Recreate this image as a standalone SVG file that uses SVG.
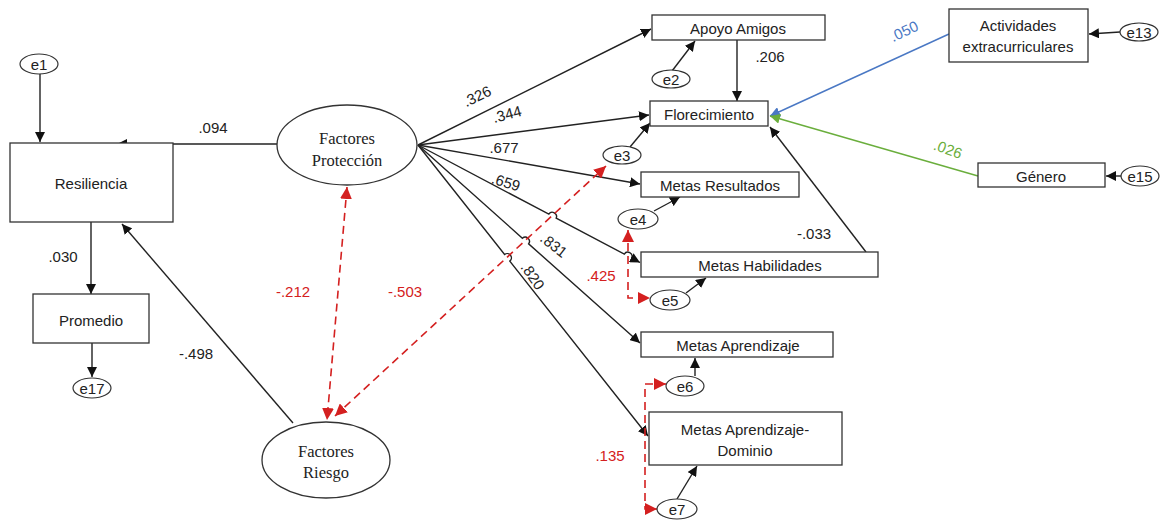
<svg xmlns="http://www.w3.org/2000/svg" width="1163" height="520" viewBox="0 0 1163 520">
  <defs>
    <style>
      .box { fill: #fff; stroke: #333; stroke-width: 1.3; }
      .lat { fill: #fff; stroke: #333; stroke-width: 1.3; }
      .err { fill: #fff; stroke: #333; stroke-width: 1.2; }
      .t { font-family: "Liberation Sans", Arial, sans-serif; font-size: 15px; fill: #222; text-anchor: middle; dominant-baseline: central; }
      .te { font-family: "Liberation Sans", Arial, sans-serif; font-size: 15px; fill: #222; text-anchor: middle; dominant-baseline: central; }
      .ts { font-family: "Liberation Serif", "Times New Roman", serif; font-size: 16.5px; fill: #222; text-anchor: middle; dominant-baseline: central; }
      .lbl { font-family: "Liberation Sans", Arial, sans-serif; font-size: 15px; fill: #222; text-anchor: middle; dominant-baseline: central; }
      .red { fill: #d42020; }
      .blue { fill: #4a78c4; }
      .green { fill: #6aae3c; }
      .arr { fill: none; stroke: #222; stroke-width: 1.4; marker-end: url(#ah); }
      .dash { fill: none; stroke: #d42020; stroke-width: 1.6; stroke-dasharray: 8 5; marker-start: url(#rh); marker-end: url(#rh); }
    </style>
    <marker id="ah" viewBox="0 0 10 10" refX="10" refY="5" markerWidth="10" markerHeight="10" markerUnits="userSpaceOnUse" orient="auto">
      <path d="M0,0 L10,5 L0,10 z" fill="#111"/>
    </marker>
    <marker id="rh" viewBox="0 0 10 10" refX="10" refY="5" markerWidth="12" markerHeight="12" markerUnits="userSpaceOnUse" orient="auto-start-reverse">
      <path d="M0,0 L10,5 L0,10 z" fill="#d42020"/>
    </marker>
    <marker id="bh" viewBox="0 0 10 10" refX="10" refY="5" markerWidth="10" markerHeight="10" markerUnits="userSpaceOnUse" orient="auto">
      <path d="M0,0 L10,5 L0,10 z" fill="#4a78c4"/>
    </marker>
    <marker id="gh" viewBox="0 0 10 10" refX="10" refY="5" markerWidth="10" markerHeight="10" markerUnits="userSpaceOnUse" orient="auto">
      <path d="M0,0 L10,5 L0,10 z" fill="#6aae3c"/>
    </marker>
  </defs>
  <rect width="1163" height="520" fill="#fff"/>

  <!-- connectors -->
  <g id="connectors">
    <path class="arr" d="M40,73 L40,142"/>
    <path class="arr" d="M277,144 L117,144"/>
    <path class="arr" d="M91,222 L91,294"/>
    <path class="arr" d="M92,343 L92,377"/>
    <path class="arr" d="M293,423 L122,224"/>
    <!-- paths fanning out of Factores Protección -->
    <path class="arr" d="M418,145 L651,29"/>
    <path class="arr" d="M418,145 L649,115"/>
    <path class="arr" d="M418,145 L640,184"/>
    <path class="arr" d="M418,145 L548.8,214.2 A4.2,4.2 0 0 1 556.2,218.1 L624.3,254.1 A4.2,4.2 0 0 1 631.7,258 L640,262.5"/>
    <path class="arr" d="M418,145 L522.4,238.2 A4.2,4.2 0 0 1 528.6,243.8 L640,343"/>
    <path class="arr" d="M418,145 L504.6,254.5 A4.2,4.2 0 0 1 509.8,261.1 L648,436"/>
    <!-- residual terms -->
    <path class="arr" d="M672,71 L695,41"/>
    <path class="arr" d="M737,40 L737,101"/>
    <path class="arr" d="M630,147 L650,123"/>
    <path class="arr" d="M654,211 L680,197"/>
    <path class="arr" d="M686,293 L706,278"/>
    <path class="arr" d="M695,376 L695,358"/>
    <path class="arr" d="M677,499 L697,466"/>
    <path class="arr" d="M1120,32 L1089,34"/>
    <path class="arr" d="M1122,176 L1106,176"/>
    <path class="arr" d="M866,252 L770,127"/>
    <!-- covariates -->
    <path d="M949,34 L770,116" fill="none" stroke="#4a78c4" stroke-width="1.4" marker-end="url(#bh)"/>
    <path d="M978,176 L770,116" fill="none" stroke="#6aae3c" stroke-width="1.4" marker-end="url(#gh)"/>
    <!-- correlations -->
    <path class="dash" d="M347,187 L327,420"/>
    <path class="dash" d="M335,416 L606,166"/>
    <path class="dash" d="M628,230 L628,298 L650,298"/>
    <path class="dash" d="M666,384 L645,384 L645,509 L657,509"/>
  </g>

  <!-- coefficient labels -->
  <g id="labels">
    <text class="lbl" x="213" y="127">.094</text>
    <text class="lbl" x="63" y="256">.030</text>
    <text class="lbl" x="196" y="353">-.498</text>
    <text class="lbl" x="770" y="56">.206</text>
    <text class="lbl" x="814" y="233">-.033</text>
    <text class="lbl" x="477" y="96" transform="rotate(-26 477 96)">.326</text>
    <text class="lbl" x="507" y="114" transform="rotate(-15 507 114)">.344</text>
    <text class="lbl" x="504" y="147">.677</text>
    <text class="lbl" x="506" y="182" transform="rotate(17 506 182)">.659</text>
    <text class="lbl" x="554" y="245" transform="rotate(38 554 245)">.831</text>
    <text class="lbl" x="533" y="276" transform="rotate(55 533 276)">.820</text>
    <text class="lbl blue" x="904" y="31" transform="rotate(-25 904 31)">.050</text>
    <text class="lbl green" x="948" y="149" transform="rotate(20 948 149)">.026</text>
    <text class="lbl red" x="293" y="291">-.212</text>
    <text class="lbl red" x="405" y="291">-.503</text>
    <text class="lbl red" x="601" y="275">.425</text>
    <text class="lbl red" x="610" y="455">.135</text>
  </g>

  <!-- nodes -->
  <g id="e1"><ellipse class="err" cx="39" cy="64" rx="19" ry="10"/><text class="te" x="39" y="64">e1</text></g>
  <g id="resiliencia"><rect class="box" x="10" y="143" width="163" height="79"/><text class="t" x="91" y="183">Resiliencia</text></g>
  <g id="promedio"><rect class="box" x="33" y="294" width="116" height="49"/><text class="t" x="91" y="320">Promedio</text></g>
  <g id="e17"><ellipse class="err" cx="92" cy="388" rx="19" ry="10"/><text class="te" x="92" y="388">e17</text></g>
  <g id="factores-proteccion"><ellipse class="lat" cx="347" cy="145" rx="70" ry="40"/><text class="ts" x="347" y="138">Factores</text><text class="ts" x="347" y="160">Protección</text></g>
  <g id="factores-riesgo"><ellipse class="lat" cx="326" cy="460" rx="64" ry="38"/><text class="ts" x="326" y="451">Factores</text><text class="ts" x="326" y="472">Riesgo</text></g>
  <g id="apoyo-amigos"><rect class="box" x="652" y="15" width="173" height="25"/><text class="t" x="738" y="28">Apoyo Amigos</text></g>
  <g id="e2"><ellipse class="err" cx="671" cy="79" rx="19" ry="9"/><text class="te" x="671" y="79">e2</text></g>
  <g id="florecimiento"><rect class="box" x="650" y="101" width="118" height="25"/><text class="t" x="709" y="114">Florecimiento</text></g>
  <g id="e3"><ellipse class="err" cx="622" cy="155" rx="19" ry="9"/><text class="te" x="622" y="155">e3</text></g>
  <g id="metas-resultados"><rect class="box" x="641" y="172" width="158" height="25"/><text class="t" x="720" y="185">Metas Resultados</text></g>
  <g id="e4"><ellipse class="err" cx="638" cy="219" rx="20" ry="10"/><text class="te" x="638" y="219">e4</text></g>
  <g id="metas-habilidades"><rect class="box" x="641" y="252" width="237" height="25"/><text class="t" x="760" y="265">Metas Habilidades</text></g>
  <g id="e5"><ellipse class="err" cx="670" cy="300" rx="20" ry="10"/><text class="te" x="670" y="300">e5</text></g>
  <g id="metas-aprendizaje"><rect class="box" x="641" y="332" width="192" height="25"/><text class="t" x="738" y="345">Metas Aprendizaje</text></g>
  <g id="e6"><ellipse class="err" cx="685" cy="386" rx="19" ry="10"/><text class="te" x="685" y="386">e6</text></g>
  <g id="metas-aprendizaje-dominio"><rect class="box" x="649" y="412" width="193" height="53"/><text class="t" x="745" y="429">Metas Aprendizaje-</text><text class="t" x="745" y="450">Dominio</text></g>
  <g id="e7"><ellipse class="err" cx="677" cy="509" rx="20" ry="10"/><text class="te" x="677" y="509">e7</text></g>
  <g id="actividades"><rect class="box" x="949" y="9" width="139" height="53"/><text class="t" x="1018" y="25">Actividades</text><text class="t" x="1018" y="46">extracurriculares</text></g>
  <g id="e13"><ellipse class="err" cx="1139" cy="32" rx="19" ry="9"/><text class="te" x="1139" y="32">e13</text></g>
  <g id="genero"><rect class="box" x="978" y="163" width="127" height="24"/><text class="t" x="1041" y="176">Género</text></g>
  <g id="e15"><ellipse class="err" cx="1140" cy="176" rx="19" ry="10"/><text class="te" x="1140" y="176">e15</text></g>
</svg>
